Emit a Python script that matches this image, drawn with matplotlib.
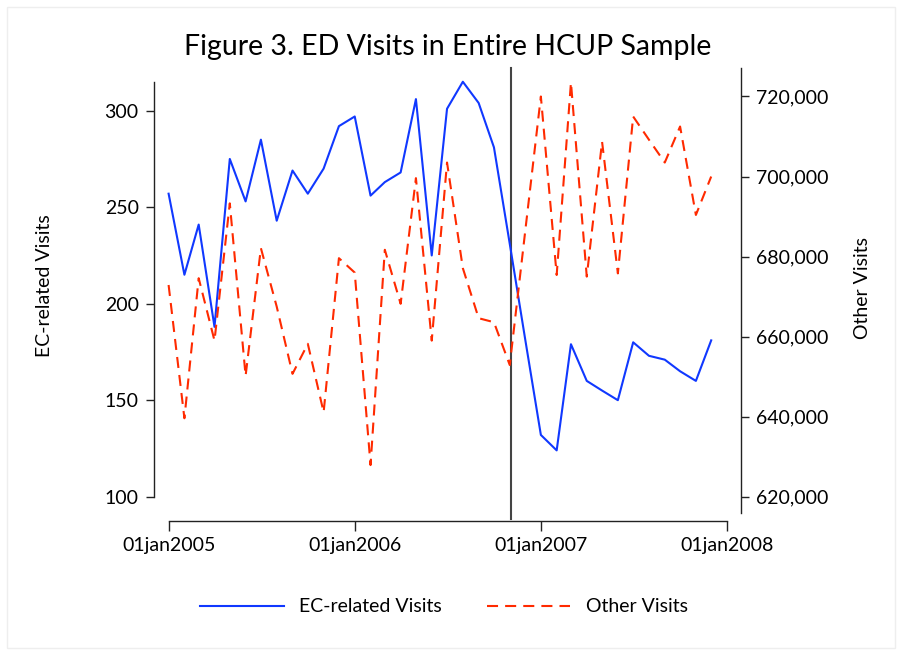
import matplotlib
matplotlib.use("Agg")
import matplotlib.pyplot as plt
import matplotlib.dates as mdates
import pandas as pd
import numpy as np
from matplotlib.ticker import FuncFormatter

plt.rcParams['font.family'] = ['Lato', 'DejaVu Sans']

months = pd.date_range("2005-01-01", periods=36, freq="MS")
ec_visits = [257, 215, 241, 188, 275, 253, 285, 243, 269, 257, 270, 292,
             297, 256, 263, 268, 306, 225, 301, 315, 304, 281, 231, 182,
             132, 124, 179, 160, 155, 150, 180, 173, 171, 165, 160, 181]
other_visits = [672900, 639600, 674600, 659000, 693300, 650200, 682100, 667500,
                650700, 658200, 641100, 679600, 676000, 627900, 681700, 668200,
                699600, 659000, 703500, 677100, 664600, 663600, 652900, 686000,
                720000, 675400, 723500, 675000, 708700, 675800, 715000, 709200,
                703500, 712500, 690400, 700000]
xtick_dates = pd.to_datetime(["2005-01-01", "2006-01-01", "2007-01-01", "2008-01-01"])
xtick_labels = ["01jan2005", "01jan2006", "01jan2007", "01jan2008"]
left_ticks = [100, 150, 200, 250, 300]
right_ticks = [620000, 640000, 660000, 680000, 700000, 720000]
policy_date = pd.Timestamp("2006-11-04")

W, H = 904, 655
fig = plt.figure(figsize=(W / 100, H / 100), dpi=100)
fig.patch.set_facecolor("white")

# faint outer border
fig.add_artist(plt.Rectangle((7 / W, 7 / H), (895 - 7) / W, (648 - 7) / H,
                             transform=fig.transFigure, fill=False,
                             edgecolor="#eeeeee", lw=1))

ax_l, ax_t, ax_r, ax_b = 154, 68, 741, 513
ax = fig.add_axes([ax_l / W, 1 - ax_b / H, (ax_r - ax_l) / W, (ax_b - ax_t) / H])
ax2 = ax.twinx()

x = mdates.date2num(months)
d0 = mdates.date2num(pd.Timestamp("2005-01-01"))
d1 = mdates.date2num(pd.Timestamp("2008-01-01"))
ppd = (727 - 168.6) / (d1 - d0)
ax.set_xlim(d0 - (168.6 - ax_l) / ppd, d1 + (ax_r - 727) / ppd)

blue = "#1038ff"
red = "#ff2a00"
lw = 1.5

ax.plot(x, ec_visits, color=blue, lw=lw, zorder=3)
ax2.plot(x, other_visits, color=red, lw=lw, dashes=(5.3, 3.4), zorder=3)

# left axis scale
ppu = (496.7 - 110.7) / 200.0
ax.set_ylim(100 - (ax_b - 496.7) / ppu, 300 + (110.7 - ax_t) / ppu)
ppk = (496.7 - 96.5) / 100000.0
ax2.set_ylim(620000 - (ax_b - 496.7) / ppk, 720000 + (96.5 - ax_t) / ppk)

ax.axvline(mdates.date2num(policy_date), ymin=-6 / (ax_b - ax_t), ymax=1,
           color="#444444", lw=1.5, clip_on=False, zorder=2)

for a in (ax, ax2):
    a.spines['top'].set_visible(False)
    a.patch.set_visible(False)
ax2.spines['left'].set_visible(False)
ax2.spines['bottom'].set_visible(False)
ax.spines['right'].set_visible(False)

ax.spines['left'].set_bounds(100, max(ec_visits))
ax.spines['bottom'].set_position(('outward', 6))
ax.spines['bottom'].set_bounds(d0, d1)
for s in ('left', 'bottom'):
    ax.spines[s].set_color("#222222")
    ax.spines[s].set_linewidth(1.0)
ax2.spines['right'].set_color("#222222")
ax2.spines['right'].set_linewidth(1.0)

ax.set_xticks(mdates.date2num(xtick_dates))
ax.set_xticklabels(xtick_labels)
ax.set_yticks(left_ticks)
ax.set_yticklabels([str(v) for v in left_ticks])
ax2.set_yticks(right_ticks)
ax2.yaxis.set_major_formatter(FuncFormatter(lambda v, p: f"{int(round(v)):,}"))

fs = 14
ax.tick_params(axis='x', length=7, width=1, pad=4, labelsize=fs, colors="#222222", labelcolor="black")
ax.tick_params(axis='y', length=6, width=1, pad=5, labelsize=fs, colors="#222222", labelcolor="black")
ax2.tick_params(axis='y', length=6, width=1, pad=5, labelsize=fs, colors="#222222", labelcolor="black")

fig.text(448 / W, 1 - 47 / H, "Figure 3. ED Visits in Entire HCUP Sample",
         ha='center', va='center', fontsize=20.5)
fig.text(45 / W, 1 - 286 / H, "EC-related Visits", rotation=90,
         ha='center', va='center', fontsize=fs)
fig.text(863 / W, 1 - 288 / H, "Other Visits", rotation=90,
         ha='center', va='center', fontsize=fs)

h1, = ax.plot([], [], color=blue, lw=lw)
h2, = ax.plot([], [], color=red, lw=lw, dashes=(5.3, 3.4))
fig.legend([h1, h2], ["EC-related Visits", "Other Visits"], loc='center',
           bbox_to_anchor=(444 / W, 1 - 607 / H), ncol=2, frameon=False,
           fontsize=fs, handlelength=4.3, handletextpad=0.8, columnspacing=2.3)

fig.savefig("out.png", dpi=100)
